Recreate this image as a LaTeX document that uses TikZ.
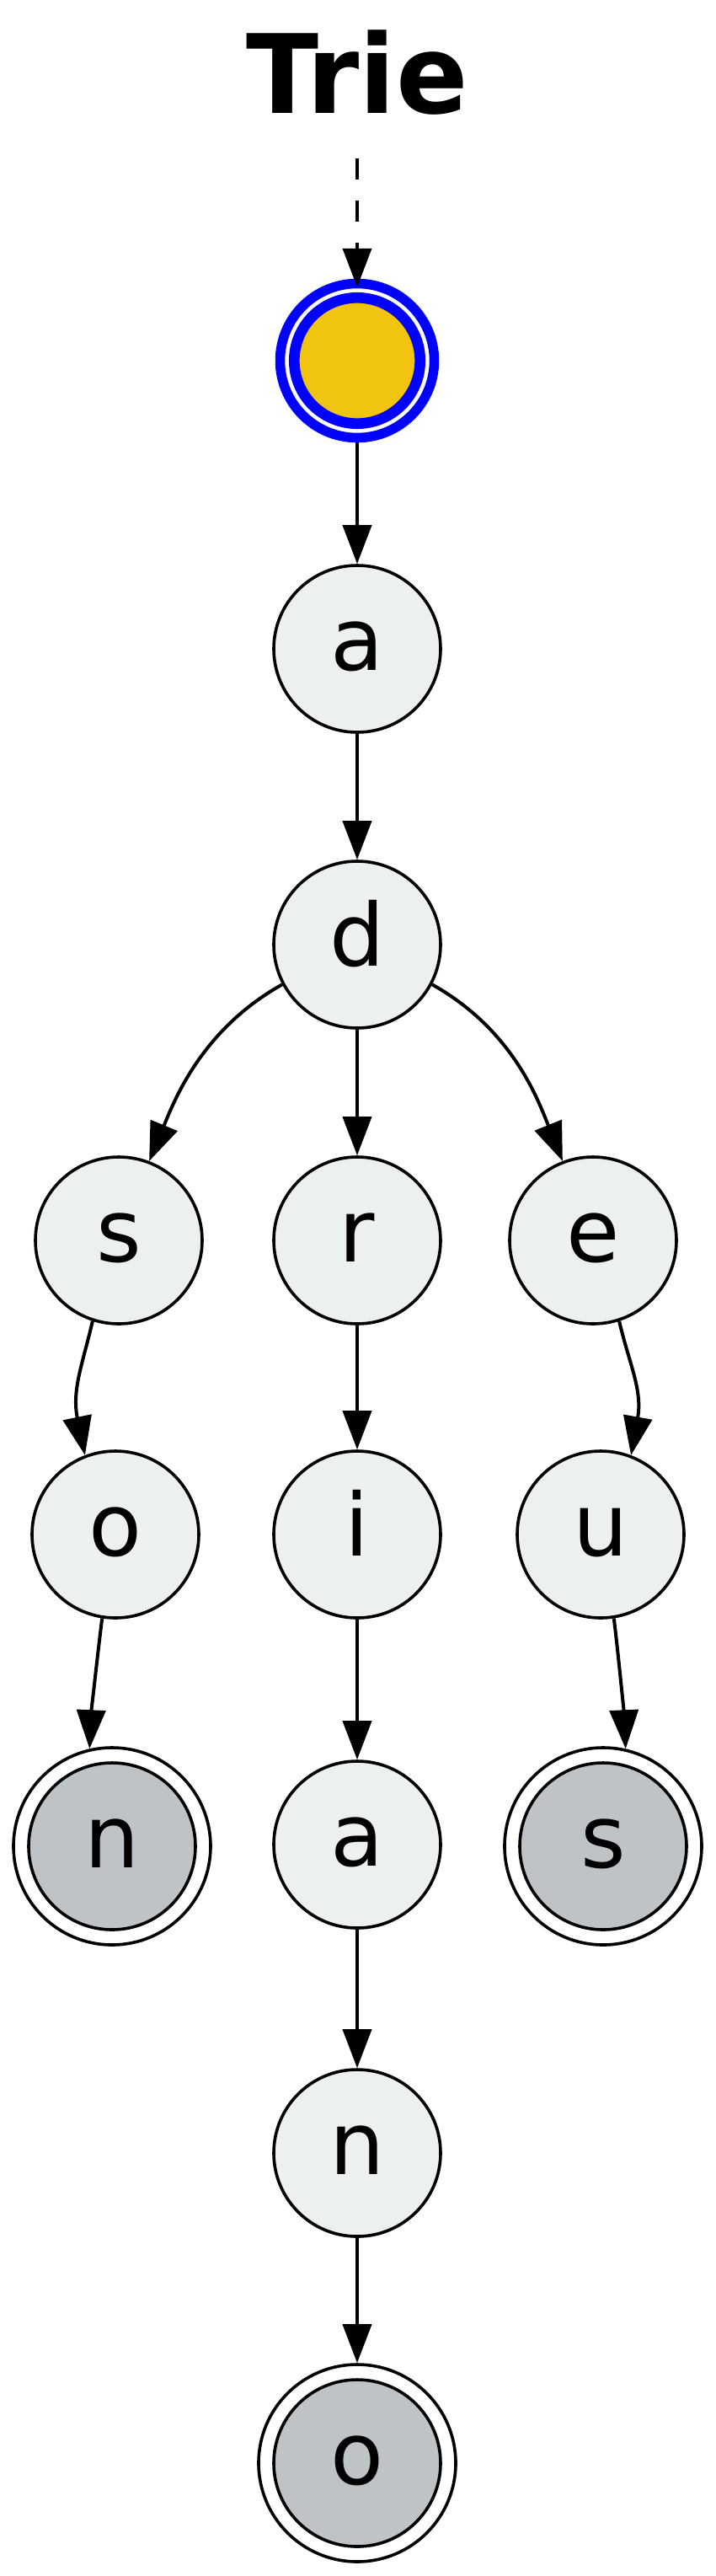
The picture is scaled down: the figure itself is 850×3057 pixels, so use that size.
\documentclass[tikz,border=0pt]{standalone}
\usepackage{fontspec}
\setmainfont{DejaVu Sans}
\usetikzlibrary{arrows.meta}
\definecolor{nodefill}{HTML}{ECF0F1}
\definecolor{termfill}{HTML}{BDC3C7}
\definecolor{rootfill}{HTML}{F1C40F}
\definecolor{rootblue}{HTML}{0000FF}
\begin{document}
\begin{tikzpicture}[x=1pt,y=-1pt,
  letter/.style={circle, draw=black, line width=3.6pt, fill=nodefill, minimum size=198pt, inner sep=0pt,
    font=\fontsize{103}{103}\selectfont, text height=72pt, text depth=22pt},
  termletter/.style={letter, fill=termfill},
  termring/.style={circle, draw=black, line width=3.6pt, fill=white, minimum size=234pt, inner sep=0pt},
  rootring/.style={circle, draw=rootblue, line width=11.5pt, fill=white, minimum size=183pt, inner sep=0pt},
  rootcore/.style={circle, draw=rootblue, line width=12.7pt, fill=rootfill, minimum size=149.4pt, inner sep=0pt},
  edge/.style={draw=black, line width=4pt, -{Triangle[length=46pt,width=34pt]}},
  titletext/.style={font=\bfseries\fontsize{130}{130}\selectfont, anchor=base, inner sep=0pt}
]
\fill[white] (0,0) rectangle (850,3057);
\useasboundingbox (0,0) rectangle (850,3057);

\node[titletext] (title) at (424,134) {\scalebox{0.97}[1]{Trie}};
\coordinate (start) at (424,188);

\node[rootring] (root) at (424,428) {};
\node[rootcore] (rootin) at (root) {};

\node[letter] (na) at (424,770) {a};
\node[letter] (nd) at (424,1121) {d};
\node[letter] (ns) at (141,1472) {s};
\node[letter] (nr) at (424,1472) {r};
\node[letter] (ne) at (704,1472) {e};
\node[letter] (no) at (137,1821) {o};
\node[letter] (ni) at (424,1821) {i};
\node[letter] (nu) at (713,1821) {u};
\node[termring] (n1) at (133,2191) {};
\node[termletter] (n1in) at (n1) {n};
\node[letter] (a2) at (424,2189) {a};
\node[termring] (s1) at (716,2191) {};
\node[termletter] (s1in) at (s1) {s};
\node[letter] (n2) at (424,2555) {n};
\node[termring] (o2) at (424,2923) {};
\node[termletter] (o2in) at (o2) {o};

\draw[edge, dash pattern=on 25pt off 25pt, shorten >=-10pt] (start) -- (root);
\draw[edge] (root) -- (na);
\draw[edge] (na) -- (nd);
\draw[edge] (nd.208) .. controls (239,1222) and (207,1306) .. (ns.69);
\draw[edge] (nd) -- (nr);
\draw[edge] (nd.332) .. controls (609,1222) and (639,1306) .. (ne.111);
\draw[edge] (ns.252) .. controls (98.3,1617.9) and (85,1649.4) .. (no.111);
\draw[edge] (nr) -- (ni);
\draw[edge] (ne.288) .. controls (746.7,1617.9) and (763,1649.4) .. (nu.69);
\draw[edge] (no.261) .. controls (117,1953) and (108,2036) .. (n1.103);
\draw[edge] (ni) -- (a2);
\draw[edge] (nu.279) .. controls (733,1953) and (741,2036) .. (s1.77);
\draw[edge] (a2) -- (n2);
\draw[edge] (n2) -- (o2);
\end{tikzpicture}
\end{document}
